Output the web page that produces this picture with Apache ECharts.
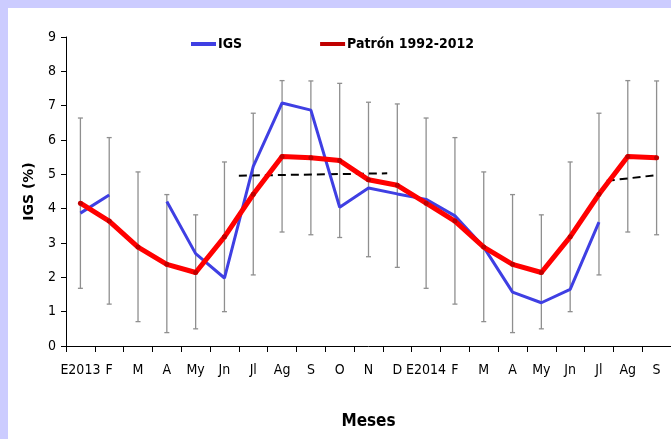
<!DOCTYPE html>
<html><head><meta charset="utf-8">
<script src="https://cdn.jsdelivr.net/npm/echarts@6/dist/echarts.min.js"></script>
<style>
html,body{margin:0;padding:0;background:#ccccff;width:671px;height:439px;overflow:hidden;}
#c{position:absolute;left:8px;top:8px;width:663px;height:431px;background:#fff;}
</style></head><body><div id="c"></div>
<script>
var months = ['E2013','F','M','A','My','Jn','Jl','Ag','S','O','N','D','E2014','F','M','A','My','Jn','Jl','Ag','S'];
var igs = [3.87,4.40,null,4.21,2.69,1.98,5.23,7.08,6.87,4.04,4.60,4.43,4.27,3.79,2.88,1.57,1.26,1.65,3.61,null,null];
var patron = [4.16,3.64,2.88,2.38,2.14,3.18,4.42,5.52,5.48,5.40,4.84,4.68,4.16,3.64,2.88,2.38,2.14,3.18,4.42,5.52,5.48];
var errHigh = [6.64,6.07,5.07,4.41,3.82,5.36,6.78,7.73,7.72,7.65,7.10,7.05,6.64,6.07,5.07,4.41,3.82,5.36,6.78,7.73,7.72];
var errLow  = [1.68,1.22,0.71,0.39,0.50,1.00,2.07,3.32,3.24,3.16,2.60,2.29,1.68,1.22,0.71,0.39,0.50,1.00,2.07,3.32,3.24];
// trend segments: [category position (index, centre = integer), value]
var trend1 = [[5.5,4.96],[10.65,5.03]];
var trend2 = [[18.27,4.81],[19.92,4.97]];
var yTicks = [0,1,2,3,4,5,6,7,8,9];

var FONT = "'Liberation Sans Narrow','DejaVu Sans Condensed',Roboto,sans-serif";
var chart = echarts.init(document.getElementById('c'));
var errData = months.map(function(m,i){return [i, errLow[i], errHigh[i]];});
function shift(arr){return arr.map(function(p){return [p[0]+0.5,p[1]];});}

chart.setOption({
  animation:false,
  backgroundColor:'#fff',
  grid:{left:58,top:29,right:0,bottom:93,containLabel:false},
  legend:{
    left:183, top:29, padding:0, itemWidth:25, itemHeight:4, itemGap:78,
    textStyle:{fontFamily:FONT,fontWeight:'bold',fontSize:14,color:'#000',padding:[0,0,0,-3]},
    data:[{name:'IGS',icon:'rect'},{name:'Patrón 1992-2012',icon:'rect'}]
  },
  xAxis:[{
    type:'category', data:months, boundaryGap:true,
    axisLine:{lineStyle:{color:'#000',width:1}},
    axisTick:{show:true,length:6,alignWithLabel:false,lineStyle:{color:'#000'}},
    axisLabel:{interval:0,fontFamily:FONT,fontSize:14,color:'#000',margin:17},
    name:'Meses', nameLocation:'middle', nameGap:67,
    nameTextStyle:{fontFamily:FONT,fontWeight:'bold',fontSize:17,color:'#000'}
  },{
    type:'value', min:0, max:21, show:false
  }],
  yAxis:{
    type:'value', min:0, max:9, interval:1,
    splitLine:{show:false},
    axisLine:{show:true,lineStyle:{color:'#000',width:1}},
    axisTick:{show:true,length:5,lineStyle:{color:'#000'}},
    axisLabel:{fontFamily:FONT,fontSize:14,color:'#000',margin:10},
    name:'IGS (%)', nameLocation:'middle', nameGap:30, nameRotate:90,
    nameTextStyle:{fontFamily:"'DejaVu Sans',sans-serif",fontWeight:'bold',fontSize:14,color:'#000'}
  },
  series:[
    {
      type:'custom', name:'err', data:errData, z:1,
      renderItem:function(params,api){
        var x = api.value(0);
        var lo = api.coord([x, api.value(1)]);
        var hi = api.coord([x, api.value(2)]);
        var w = 2.5;
        var st = {stroke:'#8f8f8f',lineWidth:1.3};
        return {type:'group',children:[
          {type:'line',shape:{x1:lo[0],y1:lo[1],x2:hi[0],y2:hi[1]},style:st},
          {type:'line',shape:{x1:lo[0]-w,y1:lo[1],x2:lo[0]+w,y2:lo[1]},style:st},
          {type:'line',shape:{x1:hi[0]-w,y1:hi[1],x2:hi[0]+w,y2:hi[1]},style:st}
        ]};
      },
      encode:{x:0,y:[1,2]}
    },
    {
      type:'line', name:'trend1', xAxisIndex:1, data:shift(trend1), symbol:'none', z:3,
      lineStyle:{color:'#000',width:2,type:[8,5]}
    },
    {
      type:'line', name:'trend2', xAxisIndex:1, data:shift(trend2), symbol:'none', z:3,
      lineStyle:{color:'#000',width:2,type:[8,5]}
    },
    {
      type:'line', name:'IGS', data:igs, symbol:'none', connectNulls:false, z:4,
      lineStyle:{color:'#3f3fe3',width:3},
      itemStyle:{color:'#3f3fe3'}
    },
    {
      type:'line', name:'Patrón 1992-2012', data:patron, z:5,
      symbol:'circle', symbolSize:5,
      lineStyle:{color:'#ff0000',width:5},
      itemStyle:{color:'#c00000'}
    }
  ]
});
</script></body></html>
